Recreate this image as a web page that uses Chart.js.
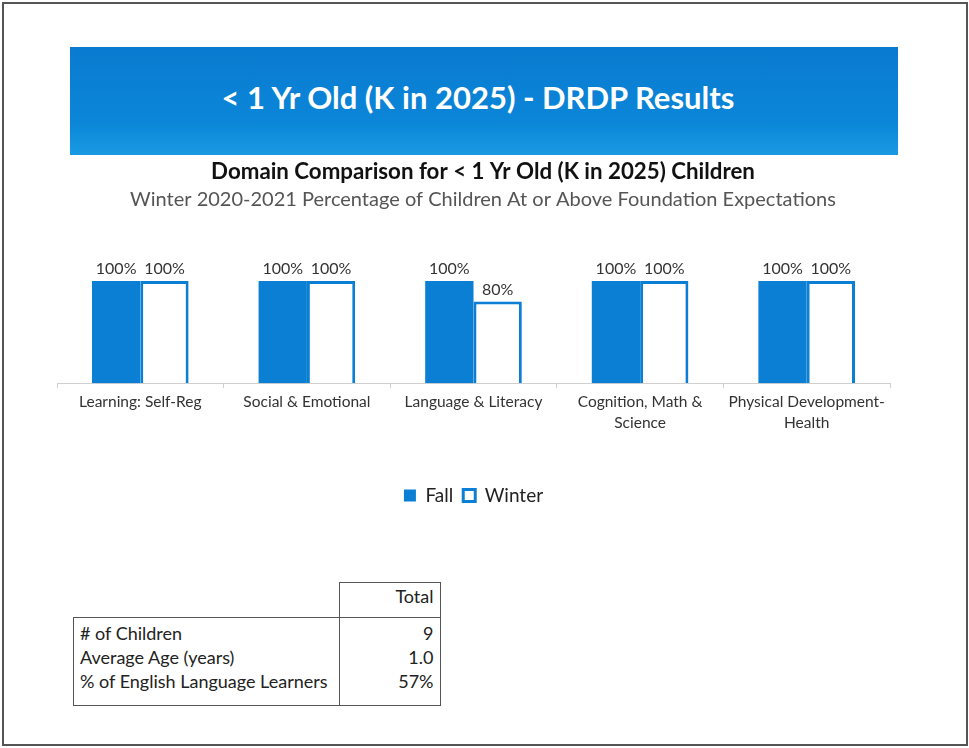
<!DOCTYPE html>
<html>
<head>
<meta charset="utf-8">
<script src="https://cdn.jsdelivr.net/npm/chart.js@4"></script>
<style>
  html, body { margin: 0; padding: 0; background: #fff; }
  body { width: 969px; height: 748px; position: relative; overflow: hidden; font-family: Lato, "Open Sans", sans-serif; }
  .frame { position: absolute; left: 2px; top: 2px; width: 962px; height: 740px; border: 2px solid #555; }
  .banner {
    position: absolute; left: 70px; top: 47px; width: 816px; height: 108px; padding-right: 12px;
    background: linear-gradient(#0a7bd0, #0b86d8 70%, #1a9ae2);
    color: #fff; font-size: 31px; font-weight: 700; text-align: center; line-height: 100px;
  }
  .chart-box { position: absolute; left: 50px; top: 155px; width: 860px; height: 360px; }
  table.stats { position: absolute; left: 73px; top: 582px; border-collapse: collapse; font-size: 18px; color: #222; }
  table.stats td { padding: 0 6px; height: 24px; line-height: 24px; }
  table.stats td.v { text-align: right; width: 88px; }
</style>
</head>
<body>
<div class="frame"></div>
<div class="banner">&lt; 1 Yr Old (K in 2025) - DRDP Results</div>
<div class="chart-box"><canvas id="chart"></canvas></div>
<table class="stats" id="stats"></table>
<script>
// ---- data ----
const categories = [
  "Learning: Self-Reg",
  "Social & Emotional",
  "Language & Literacy",
  ["Cognition, Math &", "Science"],
  ["Physical Development-", "Health"],
];
const fallValues = [100, 100, 100, 100, 100];
const winterValues = [100, 100, 80, 100, 100];

const tableRowLabels = ["# of Children", "Average Age (years)", "% of English Language Learners"];
const tableTotals = ["9", "1.0", "57%"];

// ---- table ----
const tbl = document.getElementById("stats");
let html = '<tr><td style="width:253px;border:none"></td><td class="v" style="border:1px solid #555;height:34px;vertical-align:top;line-height:26px">Total</td></tr>';
tableRowLabels.forEach((lab, i) => {
  const first = i === 0, last = i === tableRowLabels.length - 1;
  const tb = (first ? "border-top:1px solid #555;padding-top:3px;" : "") + (last ? "border-bottom:1px solid #555;padding-bottom:12px;" : "");
  html += `<tr><td style="border-left:1px solid #555;${tb}">${lab}</td>` +
          `<td class="v" style="border-left:1px solid #555;border-right:1px solid #555;${tb}">${tableTotals[i]}</td></tr>`;
});
tbl.innerHTML = html;

// ---- chart ----
const BLUE = "#0b7fd4";
const FONT = "Lato, 'Open Sans', sans-serif";

// заголовок + подзаголовок над графиком
const titles = {
  id: "titles",
  beforeDraw(chart) {
    const { ctx, width } = chart;
    const cx = width / 2 + 3;
    ctx.save();
    ctx.textAlign = "center";
    ctx.textBaseline = "middle";
    ctx.fillStyle = "#111";
    ctx.font = "bold 22.3px " + FONT;
    ctx.fillText("Domain Comparison for < 1 Yr Old (K in 2025) Children", cx, 17);
    ctx.fillStyle = "#555";
    ctx.font = "20px " + FONT;
    ctx.fillText("Winter 2020-2021 Percentage of Children At or Above Foundation Expectations", cx, 45);
    ctx.restore();
  },
};

// подписи значений над столбцами
const valueLabels = {
  id: "valueLabels",
  afterDatasetsDraw(chart) {
    const { ctx } = chart;
    ctx.save();
    ctx.font = "16px " + FONT;
    ctx.fillStyle = "#333";
    ctx.textAlign = "center";
    ctx.textBaseline = "bottom";
    chart.data.datasets.forEach((ds, di) => {
      chart.getDatasetMeta(di).data.forEach((bar, i) => {
        ctx.fillText(ds.data[i] + "%", bar.x, bar.y - 4);
      });
    });
    ctx.restore();
  },
};

new Chart(document.getElementById("chart"), {
  type: "bar",
  data: {
    labels: categories,
    datasets: [
      { label: "Fall", data: fallValues, backgroundColor: BLUE, borderColor: BLUE, borderWidth: 0 },
      { label: "Winter", data: winterValues, backgroundColor: "#fff", borderColor: BLUE, borderWidth: 3 },
    ],
  },
  options: {
    responsive: true,
    maintainAspectRatio: false,
    animation: false,
    categoryPercentage: 0.58,
    barPercentage: 1.0,
    layout: { padding: { left: 7, right: 20, top: 126, bottom: 0 } },
    plugins: {
      tooltip: { enabled: false },
      title: { display: false },
      legend: {
        position: "bottom",
        labels: {
          color: "#222",
          font: { family: FONT, size: 19 },
          boxWidth: 12,
          boxHeight: 12,
          padding: 10,
        },
      },
    },
    scales: {
      x: {
        grid: { drawOnChartArea: false, drawTicks: true, tickLength: 5, color: "#d0d0d0", offset: true },
        border: { color: "#d0d0d0" },
        ticks: { color: "#333", font: { family: FONT, size: 15.5, lineHeight: 1.35 }, padding: 3, maxRotation: 0 },
        afterFit(scale) { scale.height += 40; },
      },
      y: { display: false, min: 0, max: 100 },
    },
  },
  plugins: [titles, valueLabels],
});
</script>
</body>
</html>
